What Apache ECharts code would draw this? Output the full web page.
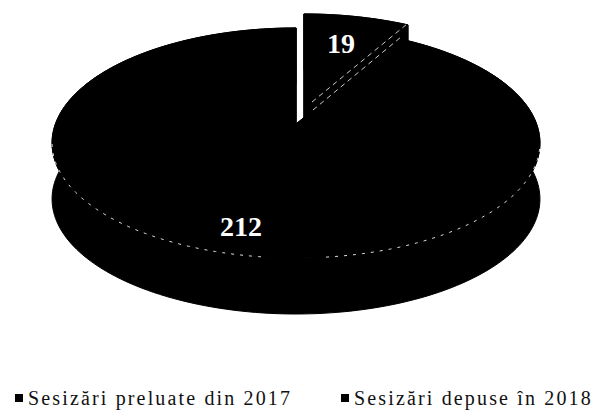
<!DOCTYPE html>
<html>
<head>
<meta charset="utf-8">
<style>
  html, body { margin: 0; padding: 0; background: #fff; }
  #chart { width: 597px; height: 412px; }
  /* legenda din original are literele rărite */
  #chart svg text { letter-spacing: 2.15px; }
  #chart svg text[style*="bold"] { letter-spacing: 0; }
</style>
<script src="https://cdn.jsdelivr.net/npm/echarts@6/dist/echarts.min.js"></script>
</head>
<body>
<div id="chart"></div>
<script>
const categories = ['Sesizări preluate din 2017', 'Sesizări depuse în 2018'];
const values = [19, 212];

const total = values.reduce((a, b) => a + b, 0);

// vedere 3D: cercul plăcintei proiectat în perspectivă
const view = { cx: 296, cy: 124, bx: 240.6, by: 111.9, k: 0.165, depth: 56 };

function project(deg, r, dx, dy) {
  const t = deg * Math.PI / 180;
  const X = r * Math.sin(t), Y = r * Math.cos(t);
  const w = 1 + view.k * Y;
  return [view.cx + view.bx * X / w + dx, view.cy - view.by * Y / w + dy];
}

function arc(from, to, dx, dy) {
  const pts = [];
  const n = Math.ceil(Math.abs(to - from) / 1.5);
  for (let i = 0; i <= n; i++) {
    pts.push(project(from + (to - from) * i / n, 1, dx, dy));
  }
  return pts;
}

function face(deg, dx, dy) {
  return [
    project(0, 0, dx, dy),
    project(deg, 1, dx, dy),
    project(deg, 1, dx, dy + view.depth),
    project(0, 0, dx, dy + view.depth)
  ];
}

function sliceShapes(from, to, dx, dy, labelPos, text, fontSize) {
  const outer = arc(from, to, dx, dy);
  const lower = arc(from, to, dx, dy + view.depth).reverse();
  const black = { fill: '#000', stroke: '#000', lineWidth: 1 };
  return {
    type: 'group',
    children: [
      { type: 'polygon', shape: { points: face(from, dx, dy) }, style: black },
      { type: 'polygon', shape: { points: face(to, dx, dy) }, style: black },
      { type: 'polygon', shape: { points: outer.concat(lower) }, style: black },
      { type: 'polygon', shape: { points: [project(0, 0, dx, dy)].concat(outer) }, style: black },
      { type: 'text', x: labelPos[0], y: labelPos[1], style: { text: text, fill: '#fff', font: 'bold ' + fontSize + 'px "Liberation Serif"', align: 'center', verticalAlign: 'middle' } }
    ]
  };
}

const chart = echarts.init(document.getElementById('chart'), null, { renderer: 'svg' });

const smallEnd = values[0] / total * 360;
const legendText = { fontFamily: 'Liberation Serif', fontSize: 20, color: '#111' };

chart.setOption({
  animation: false,
  backgroundColor: '#fff',
  legend: [
    { data: [categories[0]], left: 15, top: 388, padding: 0, icon: 'rect', itemWidth: 8, itemHeight: 8, itemGap: 8, textStyle: legendText },
    { data: [categories[1]], left: 341, top: 388, padding: 0, icon: 'rect', itemWidth: 8, itemHeight: 8, itemGap: 8, textStyle: legendText }
  ],
  series: [
    {
      type: 'custom',
      name: categories[1],
      coordinateSystem: 'none',
      itemStyle: { color: '#000' },
      data: [[values[1]]],
      renderItem: (params, api) => {
        const g = sliceShapes(smallEnd, 360, 0, 0, [241, 226], String(api.value(0)), 28);
        // linia albă punctată de pe marginea din față
        const dash = { fill: null, stroke: '#ddd', lineWidth: 1, lineDash: [3, 6] };
        g.children.push({ type: 'polyline', shape: { points: arc(260, 186, 0, 0) }, style: dash });
        g.children.push({ type: 'polyline', shape: { points: arc(174, 100, 0, 0) }, style: dash });
        return g;
      }
    },
    {
      type: 'custom',
      name: categories[0],
      coordinateSystem: 'none',
      itemStyle: { color: '#000' },
      data: [[values[0]]],
      renderItem: (params, api) => {
        const dx = 8, dy = -14;
        const g = sliceShapes(0, smallEnd, dx, dy, [341, 43], String(api.value(0)), 28);
        const dash = { fill: null, stroke: '#ccc', lineWidth: 1, lineDash: [5, 4] };
        g.children.push({
          type: 'polyline',
          shape: { points: [[view.cx + 16, view.cy - 22], project(smallEnd, 1, dx - 2, dy)] },
          style: dash
        });
        g.children.push({
          type: 'polyline',
          shape: { points: [[view.cx + 17, view.cy - 14], project(smallEnd, 1, dx - 8, dy + 13)] },
          style: dash
        });
        return g;
      }
    }
  ]
});
</script>
</body>
</html>
